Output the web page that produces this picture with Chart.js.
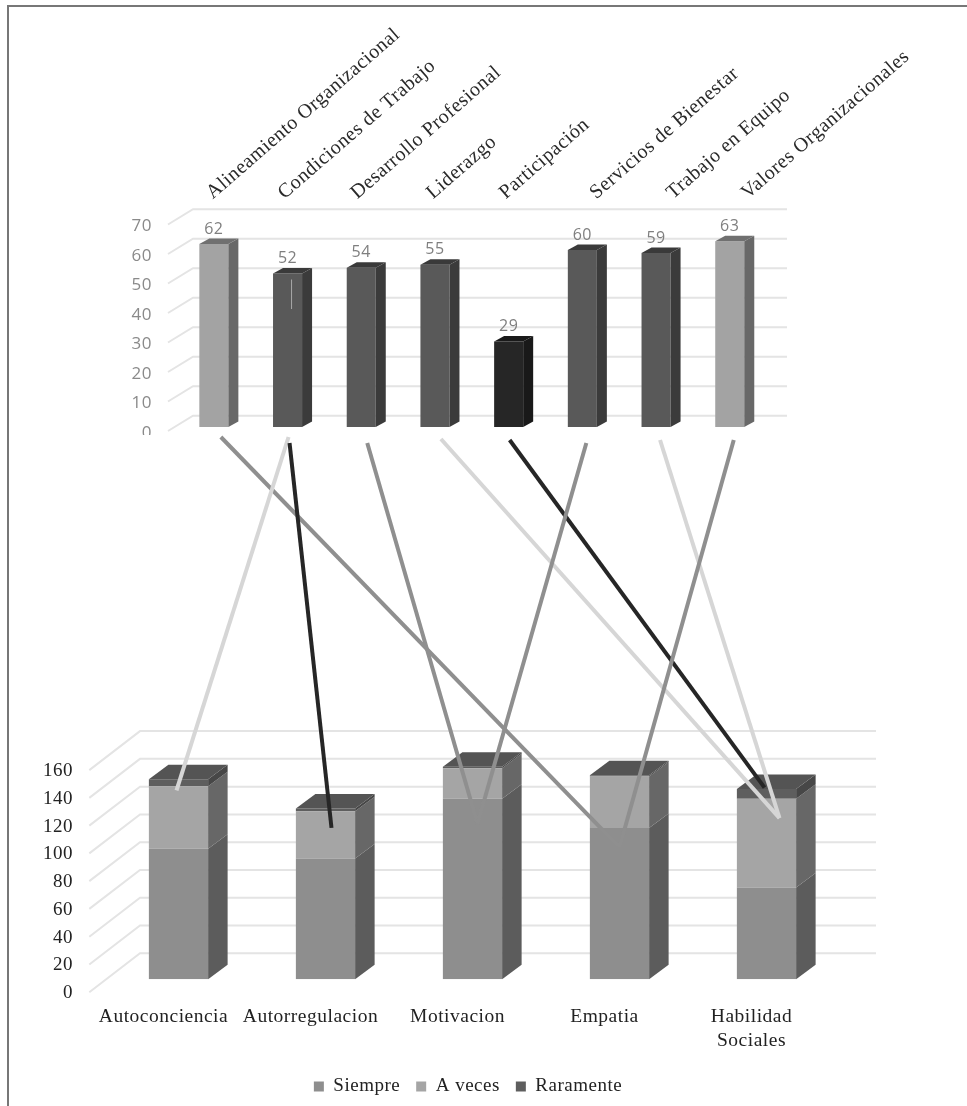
<!DOCTYPE html>
<html>
<head>
<meta charset="utf-8">
<title>Clima organizacional e inteligencia emocional</title>
<script src="https://cdn.jsdelivr.net/npm/chart.js@4"></script>
<style>
  html, body { margin: 0; padding: 0; background: #fff; }
  #page { position: relative; width: 967px; height: 1106px; overflow: hidden; }
  #frameTop { position: absolute; left: 8px; top: 5px; right: 0; height: 2px; background: #777; }
  #frameLeft { position: absolute; left: 7px; top: 5px; bottom: 0; width: 2px; background: #777; }
  canvas { position: absolute; left: 0; top: 0; }
</style>
</head>
<body>
<div id="page">
  <div id="frameTop"></div>
  <div id="frameLeft"></div>
  <canvas id="climate" width="967" height="1106"></canvas>
  <canvas id="emotion" width="967" height="1106"></canvas>
</div>
<script>
// Upper chart: organizational climate dimensions
const climateLabels = ['Alineamiento Organizacional', 'Condiciones de Trabajo', 'Desarrollo Profesional', 'Liderazgo', 'Participación', 'Servicios de Bienestar', 'Trabajo en Equipo', 'Valores Organizacionales'];
const climateValues = [62, 52, 54, 55, 29, 60, 59, 63];

// Lower chart: emotional competences, stacked by frequency
const emotionLabels = ['Autoconciencia', 'Autorregulacion', 'Motivacion', 'Empatia', ['Habilidad', 'Sociales']];
const siempre = [94, 87, 130, 109, 66];
const aVeces = [45, 34, 22, 37, 64];
const raramente = [5, 2, 1, 1, 7];

// Connectors between the two charts: climate index, competence index, stacked value reached
const linkFrom = [0, 1, 1, 2, 3, 4, 5, 6, 7];
const linkTo = [3, 0, 1, 2, 4, 4, 2, 4, 3];
const linkReach = [95, 136, 109, 112, 116, 138, 112, 116, 95];

// Shades for the three levels of the upper bars
const climateLevel = [0, 1, 1, 1, 2, 1, 1, 0];
const LEVEL_FACE = ['#a3a3a3', '#595959', '#262626'];
const LEVEL_SIDE = ['#686868', '#3b3b3b', '#191919'];
const LEVEL_TOP = ['#707070', '#3a3a3a', '#1a1a1a'];

const LINK_GRAY = '#8f8f8f', LINK_LIGHT = '#d6d6d6', LINK_DARK = '#262626';
const linkColor = [LINK_GRAY, LINK_LIGHT, LINK_DARK, LINK_GRAY, LINK_LIGHT, LINK_DARK, LINK_GRAY, LINK_LIGHT, LINK_GRAY];
// Horizontal and vertical nudges in px at each end of a connector, relative to the bar centres
const linkStartShift = [7, 1, 2, 6, 6, 1, 4, 4, 4];
const linkStartDrop = [10, 10, 16, 16, 12, 13, 16, 13, 13];
const linkEndShift = [0, -2, 6, 5, 13, -2, 5, 13, 0];

// The rotated names do not sit at an even pitch along the top
const nameShift = [-1, -3, -4, -2, -3, 14, 17, 18];

const GRID = '#e4e4e4';
const SPACED = '0.5px';

// Text on these charts runs slightly wide
const wideText = {
  id: 'wideText',
  beforeLayout(chart) { chart.ctx.letterSpacing = SPACED; },
  beforeDraw(chart) { chart.ctx.letterSpacing = SPACED; }
};

// Draws the back wall, the slanted side wall and the extruded bar faces
function boxPlugin(cfg) {
  return {
    id: 'box3d',
    beforeDatasetsDraw(chart) {
      const { ctx, scales: { y } } = chart;
      ctx.save();
      ctx.strokeStyle = GRID;
      ctx.lineWidth = 2;
      y.ticks.forEach((t) => {
        const p = y.getPixelForValue(t.value);
        ctx.beginPath();
        ctx.moveTo(cfg.wallLeft, p + cfg.wallFront);
        ctx.lineTo(cfg.wallBack, p + cfg.wallRear);
        ctx.lineTo(cfg.wallRight, p + cfg.wallRear);
        ctx.stroke();
      });
      ctx.restore();
    },
    afterDatasetsDraw(chart) {
      const { ctx } = chart;
      const last = chart.data.datasets.length - 1;
      chart.data.datasets.forEach((ds, di) => {
        chart.getDatasetMeta(di).data.forEach((bar, i) => {
          const right = bar.x + bar.width / 2;
          const left = bar.x - bar.width / 2;
          ctx.fillStyle = cfg.side(di, i);
          ctx.beginPath();
          ctx.moveTo(right, bar.base);
          ctx.lineTo(right + cfg.dx, bar.base - cfg.dy);
          ctx.lineTo(right + cfg.dx, bar.y - cfg.dy);
          ctx.lineTo(right, bar.y);
          ctx.closePath();
          ctx.fill();
          if (di === last) {
            ctx.fillStyle = cfg.top(di, i);
            ctx.beginPath();
            ctx.moveTo(left, bar.y);
            ctx.lineTo(left + cfg.dx, bar.y - cfg.dy);
            ctx.lineTo(right + cfg.dx, bar.y - cfg.dy);
            ctx.lineTo(right, bar.y);
            ctx.closePath();
            ctx.fill();
          }
        });
      });
    }
  };
}

// Value captions, rotated dimension names, a fine streak on one bar, and the cut-off zero label
const climateExtras = {
  id: 'climateExtras',
  afterDraw(chart) {
    const { ctx, scales: { x, y } } = chart;
    const bars = chart.getDatasetMeta(0).data;
    ctx.save();
    ctx.font = '16px "Open Sans"';
    ctx.fillStyle = '#7f7f7f';
    ctx.textAlign = 'center';
    ctx.textBaseline = 'middle';
    bars.forEach((bar, i) => ctx.fillText(String(climateValues[i]), bar.x, bar.y - 15));

    ctx.font = '20px "Liberation Serif"';
    ctx.fillStyle = '#2a2a2a';
    ctx.textAlign = 'left';
    ctx.textBaseline = 'alphabetic';
    climateLabels.forEach((name, i) => {
      ctx.save();
      ctx.translate(x.getPixelForTick(i) + nameShift[i], chart.chartArea.top - 21);
      ctx.rotate(-41 * Math.PI / 180);
      ctx.fillText(name, 0, 0);
      ctx.restore();
    });

    ctx.strokeStyle = '#a8a8a8';
    ctx.lineWidth = 1;
    ctx.beginPath();
    ctx.moveTo(bars[1].x + 4, y.getPixelForValue(50));
    ctx.lineTo(bars[1].x + 4, y.getPixelForValue(40));
    ctx.stroke();
    ctx.fillStyle = '#fff';
    ctx.fillRect(125, 435, 40, 12);
    ctx.restore();
  }
};

const climateChart = new Chart(document.getElementById('climate'), {
  type: 'bar',
  data: {
    labels: climateLabels,
    datasets: [{
      label: 'Clima',
      data: climateValues,
      backgroundColor: climateLevel.map((l) => LEVEL_FACE[l]),
      barPercentage: 0.394,
      categoryPercentage: 1
    }]
  },
  options: {
    responsive: false,
    animation: false,
    layout: { autoPadding: false, padding: { left: 0, top: 0, right: 200.4, bottom: 679 } },
    plugins: { legend: { display: false }, tooltip: { enabled: false } },
    scales: {
      x: {
        position: 'top',
        afterFit: (s) => { s.height = 220.5; },
        grid: { display: false },
        border: { display: false },
        ticks: { display: false }
      },
      y: {
        min: 0, max: 70,
        afterFit: (s) => { s.width = 177; },
        grid: { display: false },
        border: { display: false },
        ticks: {
          stepSize: 10, padding: 17, labelOffset: 6,
          color: '#8a8a8a', font: { family: '"Open Sans"', size: 17 }
        }
      }
    }
  },
  plugins: [
    wideText,
    boxPlugin({
      wallLeft: 168, wallBack: 193, wallRight: 787, wallFront: 4, wallRear: -11.3,
      dx: 10, dy: 5.5,
      side: (di, i) => LEVEL_SIDE[climateLevel[i]],
      top: (di, i) => LEVEL_TOP[climateLevel[i]]
    }),
    climateExtras
  ]
});

// Connector lines, drawn last over both charts
const connectors = {
  id: 'connectors',
  afterDraw(chart) {
    const { ctx, scales: { y } } = chart;
    const topBars = climateChart.getDatasetMeta(0).data;
    const lowBars = chart.getDatasetMeta(0).data;
    ctx.save();
    ctx.lineWidth = 4;
    linkFrom.forEach((from, k) => {
      ctx.strokeStyle = linkColor[k];
      ctx.beginPath();
      ctx.moveTo(topBars[from].x + linkStartShift[k], topBars[from].base + linkStartDrop[k]);
      ctx.lineTo(lowBars[linkTo[k]].x + linkEndShift[k], y.getPixelForValue(linkReach[k]));
      ctx.stroke();
    });
    ctx.restore();
  }
};

// The legend sits centred under the bars rather than under the whole plot box
const legendShift = {
  id: 'legendShift',
  afterLayout(chart) {
    chart.legend.left += 48;
    chart.legend.right += 48;
  }
};

const SIDE_SHADES = ['#5c5c5c', '#676767', '#474747'];
const TOP_SHADE = '#545454';

new Chart(document.getElementById('emotion'), {
  type: 'bar',
  data: {
    labels: emotionLabels,
    datasets: [
      { label: 'Siempre', data: siempre, backgroundColor: '#8e8e8e' },
      { label: 'A veces', data: aVeces, backgroundColor: '#a5a5a5' },
      { label: 'Raramente', data: raramente, backgroundColor: '#5e5e5e' }
    ].map((d) => Object.assign(d, { barPercentage: 0.403, categoryPercentage: 1 }))
  },
  options: {
    responsive: false,
    animation: false,
    layout: { autoPadding: false, padding: { left: 0, top: 757.1, right: 127, bottom: 0 } },
    plugins: {
      tooltip: { enabled: false },
      legend: {
        position: 'bottom',
        maxHeight: 45.5,
        labels: {
          boxWidth: 10, boxHeight: 10, padding: 16,
          color: '#222', font: { family: '"Liberation Serif"', size: 19 }
        }
      }
    },
    scales: {
      x: {
        stacked: true,
        afterFit: (s) => { s.height = 81.8; },
        grid: { display: false },
        border: { display: false },
        ticks: {
          autoSkip: false, maxRotation: 0, minRotation: 0, padding: 17, labelOffset: -15,
          color: '#222', font: { family: '"Liberation Serif"', size: 19.5, lineHeight: 1.25 }
        }
      },
      y: {
        stacked: true,
        min: 0, max: 160,
        afterFit: (s) => { s.width = 105; },
        grid: { display: false },
        border: { display: false },
        ticks: {
          stepSize: 20, padding: 24, labelOffset: 14,
          color: '#222', font: { family: '"Liberation Serif"', size: 19 }
        }
      }
    }
  },
  plugins: [
    wideText,
    legendShift,
    boxPlugin({
      wallLeft: 89.3, wallBack: 140, wallRight: 876, wallFront: 13, wallRear: -26,
      dx: 19.5, dy: 14.5,
      side: (di) => SIDE_SHADES[di],
      top: () => TOP_SHADE
    }),
    connectors
  ]
});
</script>
</body>
</html>
